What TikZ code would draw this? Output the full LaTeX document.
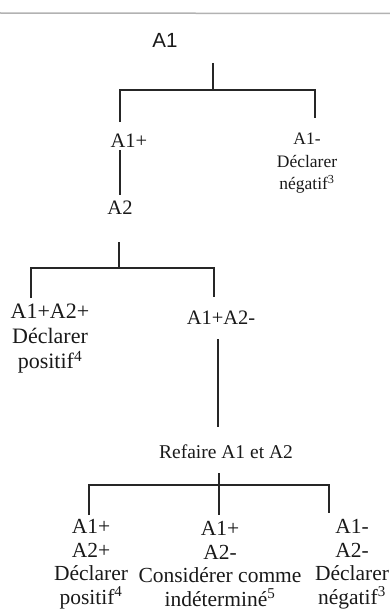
\documentclass[tikz,border=0pt]{standalone}
\usepackage{fontspec}
\setmainfont{Liberation Serif}
\newfontfamily\sansA{Liberation Sans}
\begin{document}
\begin{tikzpicture}[x=1pt,y=-1pt,
  lbl/.style={inner sep=0pt, align=center, text=black!90},
  big/.style={lbl, font=\fontsize{22}{25}\selectfont},
  low/.style={lbl, font=\fontsize{21.5}{23.5}\selectfont},
  mid/.style={lbl, font=\fontsize{20.5}{24}\selectfont},
  small/.style={lbl, font=\fontsize{17.5}{22.5}\selectfont},
  conn/.style={draw=black!85, line width=2.2pt}]
\useasboundingbox (0,0) rectangle (390,610);
% scanner rule at top
\draw[gray!60, line width=1.5pt] (0,13) -- (390,13.5);
% labels
\node[lbl, font=\sansA\fontsize{20.5}{24}\selectfont] (a1) at (165,40) {A1};
\node[mid] (a1p) at (129,141) {A1+};
\node[small] (a1m) at (307,163.5) {A1-\\Déclarer\\négatif\textsuperscript{3}};
\node[mid] (a2) at (120,208) {A2};
\node[big] (a1pa2p) at (50,339) {A1+A2+\\Déclarer\\positif\textsuperscript{4}};
\node[mid] (a1pa2m) at (221,318) {A1+A2-};
\node[lbl, font=\fontsize{19.5}{24}\selectfont] (redo) at (226,452) {Refaire A1 et A2};
\node[low] (r1) at (91,564) {A1+\\A2+\\Déclarer\\positif\textsuperscript{4}};
\node[low] (r2) at (220,564) {A1+\\A2-\\Considérer comme\\indéterminé\textsuperscript{5}};
\node[low] (r3) at (352,564) {A1-\\A2-\\Déclarer\\négatif\textsuperscript{3}};
% connector points
\coordinate (s1t) at (213,63);
\coordinate (s1) at (213,90);
\coordinate (c1l) at (120,122);
\coordinate (c1r) at (315,118);
\coordinate (v1t) at (120,150);
\coordinate (v1b) at (120,195);
\coordinate (s2t) at (119,242);
\coordinate (s2) at (119,268);
\coordinate (c2l) at (31,298);
\coordinate (c2r) at (214,297);
\coordinate (v2t) at (218,339);
\coordinate (v2b) at (218,427);
\coordinate (s3t) at (219,473);
\coordinate (s3) at (219,485);
\coordinate (c3l) at (89,515);
\coordinate (c3m) at (219,515);
\coordinate (c3r) at (329,513);
% connectors
\draw[conn] (s1t) -- (s1);
\draw[conn] (c1l) |- (s1) -| (c1r);
\draw[conn] (v1t) -- (v1b);
\draw[conn] (s2t) -- (s2);
\draw[conn] (c2l) |- (s2) -| (c2r);
\draw[conn] (v2t) -- (v2b);
\draw[conn] (s3t) -- (c3m);
\draw[conn] (c3l) |- (s3) -| (c3r);
\end{tikzpicture}
\end{document}
